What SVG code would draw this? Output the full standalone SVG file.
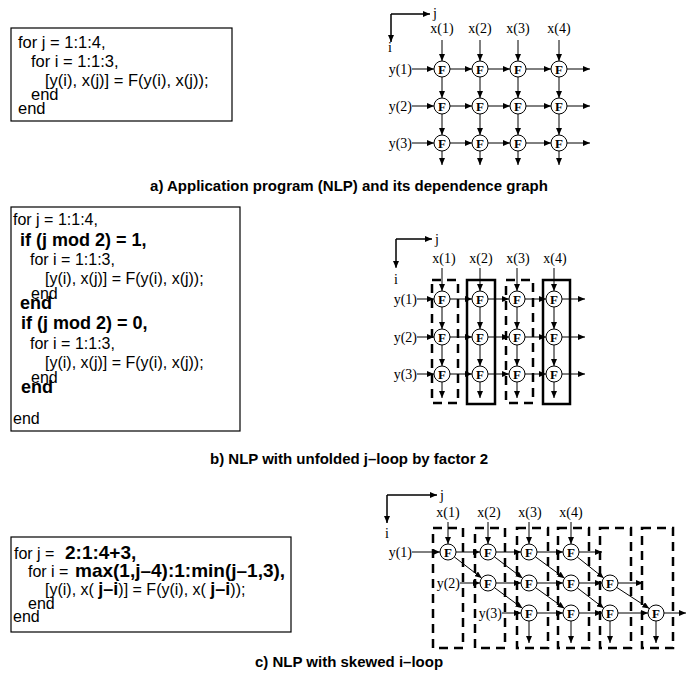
<svg xmlns="http://www.w3.org/2000/svg" width="698" height="675" viewBox="0 0 698 675">
<defs>
<marker id="ah" markerWidth="7" markerHeight="6" refX="7" refY="3" orient="auto" markerUnits="userSpaceOnUse"><path d="M0,0 L7,3 L0,6 z" fill="#000"/></marker>
<style>
.code{font-family:"Liberation Sans",Arial,sans-serif;font-size:16px;fill:#000}
.ca{font-size:16.5px}
.bold{font-weight:bold;font-size:18px}
.bc{font-weight:bold;font-size:19px}
.cap{font-family:"Liberation Sans",Arial,sans-serif;font-size:15px;font-weight:bold;text-anchor:middle}
.lbl{font-family:"Liberation Serif","Times New Roman",serif;font-size:14px}
.mid{text-anchor:middle}
.end{text-anchor:end}
.box{fill:#fff;stroke:#000;stroke-width:1.2}
.n circle{fill:#fff;stroke:#000;stroke-width:1}
.n text{font-family:"Liberation Serif","Times New Roman",serif;font-size:13px;font-weight:bold;text-anchor:middle}
.e{stroke:#000;stroke-width:1;fill:none;marker-end:url(#ah)}
.ax{stroke:#000;stroke-width:1;fill:none}
.db{fill:none;stroke:#000;stroke-width:2.5;stroke-dasharray:9 6}
.sb{fill:none;stroke:#000;stroke-width:2.5}
</style>
</defs>
<rect width="698" height="675" fill="#fff"/>

<!-- Panel a code -->
<g id="code-a">
<rect class="box" x="11" y="28" width="221" height="93"/>
<text class="code ca" x="18" y="48">for j = 1:1:4,</text>
<text class="code ca" x="31" y="67">for i = 1:1:3,</text>
<text class="code ca" x="45" y="86">[y(i), x(j)] = F(y(i), x(j));</text>
<text class="code ca" x="31" y="100">end</text>
<text class="code ca" x="18" y="114">end</text>
</g>

<!-- Panel a graph -->
<g id="labels-a" class="lbl">
<path class="ax" d="M391,42 V14 H430"/>
<path class="e" d="M391,14 H430"/><path class="e" d="M391,14 V42"/>
<text x="433" y="18">j</text><text x="388" y="52">i</text>
<text class="mid" x="442" y="33">x(1)</text><text class="mid" x="480" y="33">x(2)</text><text class="mid" x="518" y="33">x(3)</text><text class="mid" x="559" y="33">x(4)</text>
<text class="end" x="412" y="74">y(1)</text><text class="end" x="412" y="111">y(2)</text><text class="end" x="412" y="148">y(3)</text>
</g>
<g id="edges-a">
<path class="e" d="M442,40V61"/><path class="e" d="M480,40V61"/><path class="e" d="M518,40V61"/><path class="e" d="M559,40V61"/>
<path class="e" d="M442,77V98"/><path class="e" d="M480,77V98"/><path class="e" d="M518,77V98"/><path class="e" d="M559,77V98"/>
<path class="e" d="M442,114V135"/><path class="e" d="M480,114V135"/><path class="e" d="M518,114V135"/><path class="e" d="M559,114V135"/>
<path class="e" d="M442,151V165"/><path class="e" d="M480,151V165"/><path class="e" d="M518,151V165"/><path class="e" d="M559,151V165"/>
<path class="e" d="M412,69H434"/><path class="e" d="M450,69H472"/><path class="e" d="M488,69H510"/><path class="e" d="M526,69H551"/><path class="e" d="M567,69H590"/>
<path class="e" d="M412,106H434"/><path class="e" d="M450,106H472"/><path class="e" d="M488,106H510"/><path class="e" d="M526,106H551"/><path class="e" d="M567,106H590"/>
<path class="e" d="M412,143H434"/><path class="e" d="M450,143H472"/><path class="e" d="M488,143H510"/><path class="e" d="M526,143H551"/><path class="e" d="M567,143H590"/>
</g>
<g id="nodes-a">
<g class="n" id="a11"><circle cx="442" cy="69" r="8"/><text x="442" y="73.5">F</text></g>
<g class="n" id="a12"><circle cx="480" cy="69" r="8"/><text x="480" y="73.5">F</text></g>
<g class="n" id="a13"><circle cx="518" cy="69" r="8"/><text x="518" y="73.5">F</text></g>
<g class="n" id="a14"><circle cx="559" cy="69" r="8"/><text x="559" y="73.5">F</text></g>
<g class="n" id="a21"><circle cx="442" cy="106" r="8"/><text x="442" y="110.5">F</text></g>
<g class="n" id="a22"><circle cx="480" cy="106" r="8"/><text x="480" y="110.5">F</text></g>
<g class="n" id="a23"><circle cx="518" cy="106" r="8"/><text x="518" y="110.5">F</text></g>
<g class="n" id="a24"><circle cx="559" cy="106" r="8"/><text x="559" y="110.5">F</text></g>
<g class="n" id="a31"><circle cx="442" cy="143" r="8"/><text x="442" y="147.5">F</text></g>
<g class="n" id="a32"><circle cx="480" cy="143" r="8"/><text x="480" y="147.5">F</text></g>
<g class="n" id="a33"><circle cx="518" cy="143" r="8"/><text x="518" y="147.5">F</text></g>
<g class="n" id="a34"><circle cx="559" cy="143" r="8"/><text x="559" y="147.5">F</text></g>
</g>
<text class="cap" x="349" y="191">a) Application program (NLP) and its dependence graph</text>

<!-- Panel b code -->
<g id="code-b">
<rect class="box" x="11" y="207" width="229" height="224"/>
<text class="code" x="13" y="225">for j = 1:1:4,</text>
<text class="code bold" x="20" y="246">if (j mod 2) = 1,</text>
<text class="code" x="30" y="265">for i = 1:1:3,</text>
<text class="code" x="45" y="284">[y(i), x(j)] = F(y(i), x(j));</text>
<text class="code" x="31" y="299">end</text>
<text class="code bold" x="20" y="309">end</text>
<text class="code bold" x="21" y="329">if (j mod 2) = 0,</text>
<text class="code" x="30" y="349">for i = 1:1:3,</text>
<text class="code" x="45" y="368">[y(i), x(j)] = F(y(i), x(j));</text>
<text class="code" x="31" y="383">end</text>
<text class="code bold" x="21" y="393">end</text>
<text class="code" x="13" y="424">end</text>
</g>

<!-- Panel b graph -->
<g id="labels-b" class="lbl">
<path class="ax" d="M396,267 V239 H432"/>
<path class="e" d="M396,239 H432"/><path class="e" d="M396,239 V268"/>
<text x="435" y="244">j</text><text x="394" y="284">i</text>
<text class="mid" x="444" y="263">x(1)</text><text class="mid" x="481" y="263">x(2)</text><text class="mid" x="518" y="263">x(3)</text><text class="mid" x="555" y="263">x(4)</text>
<text class="end" x="417" y="304">y(1)</text><text class="end" x="417" y="342">y(2)</text><text class="end" x="417" y="379">y(3)</text>
</g>
<g id="boxes-b">
<rect class="db" x="432" y="280" width="26" height="123"/>
<rect class="sb" x="467" y="280" width="28" height="124"/>
<rect class="db" x="506" y="280" width="27" height="123"/>
<rect class="sb" x="543" y="280" width="27" height="124"/>
</g>
<g id="edges-b">
<path class="e" d="M442,268V291"/><path class="e" d="M480,268V291"/><path class="e" d="M517,268V291"/><path class="e" d="M554,268V291"/>
<path class="e" d="M442,307V329"/><path class="e" d="M480,307V329"/><path class="e" d="M517,307V329"/><path class="e" d="M554,307V329"/>
<path class="e" d="M442,345V366"/><path class="e" d="M480,345V366"/><path class="e" d="M517,345V366"/><path class="e" d="M554,345V366"/>
<path class="e" d="M442,382V398"/><path class="e" d="M480,382V398"/><path class="e" d="M517,382V398"/><path class="e" d="M554,382V398"/>
<path class="e" d="M417,299H434"/><path class="e" d="M450,299H472"/><path class="e" d="M488,299H509"/><path class="e" d="M525,299H546"/><path class="e" d="M562,299H585"/>
<path class="e" d="M417,337H434"/><path class="e" d="M450,337H472"/><path class="e" d="M488,337H509"/><path class="e" d="M525,337H546"/><path class="e" d="M562,337H585"/>
<path class="e" d="M417,374H434"/><path class="e" d="M450,374H472"/><path class="e" d="M488,374H509"/><path class="e" d="M525,374H546"/><path class="e" d="M562,374H585"/>
</g>
<g id="nodes-b">
<g class="n" id="b11"><circle cx="442" cy="299" r="8"/><text x="442" y="303.5">F</text></g>
<g class="n" id="b12"><circle cx="480" cy="299" r="8"/><text x="480" y="303.5">F</text></g>
<g class="n" id="b13"><circle cx="517" cy="299" r="8"/><text x="517" y="303.5">F</text></g>
<g class="n" id="b14"><circle cx="554" cy="299" r="8"/><text x="554" y="303.5">F</text></g>
<g class="n" id="b21"><circle cx="442" cy="337" r="8"/><text x="442" y="341.5">F</text></g>
<g class="n" id="b22"><circle cx="480" cy="337" r="8"/><text x="480" y="341.5">F</text></g>
<g class="n" id="b23"><circle cx="517" cy="337" r="8"/><text x="517" y="341.5">F</text></g>
<g class="n" id="b24"><circle cx="554" cy="337" r="8"/><text x="554" y="341.5">F</text></g>
<g class="n" id="b31"><circle cx="442" cy="374" r="8"/><text x="442" y="378.5">F</text></g>
<g class="n" id="b32"><circle cx="480" cy="374" r="8"/><text x="480" y="378.5">F</text></g>
<g class="n" id="b33"><circle cx="517" cy="374" r="8"/><text x="517" y="378.5">F</text></g>
<g class="n" id="b34"><circle cx="554" cy="374" r="8"/><text x="554" y="378.5">F</text></g>
</g>
<text class="cap" x="349" y="464">b) NLP with unfolded j–loop by factor 2</text>

<!-- Panel c code -->
<g id="code-c">
<rect class="box" x="11" y="537" width="280" height="95"/>
<text class="code" x="14" y="559">for j = <tspan class="bc" x="65">2:1:4+3,</tspan></text>
<text class="code" x="28" y="577">for i = <tspan class="bc" x="75">max(1,j–4):1:min(j–1,3),</tspan></text>
<text class="code" x="45" y="595">[y(i), x( <tspan class="bold">j–i</tspan>)] = F(y(i), x( <tspan class="bold">j–i</tspan>));</text>
<text class="code" x="28" y="609">end</text>
<text class="code" x="13" y="622">end</text>
</g>

<!-- Panel c graph -->
<g id="boxes-c">
<rect class="db" x="433" y="528" width="30" height="120"/>
<rect class="db" x="475" y="528" width="30" height="120"/>
<rect class="db" x="517" y="528" width="31" height="120"/>
<rect class="db" x="558" y="528" width="31" height="120"/>
<rect class="db" x="600" y="528" width="31" height="120"/>
<rect class="db" x="642" y="528" width="31" height="120"/>
</g>
<g id="labels-c" class="lbl">
<path class="ax" d="M387,523 V495 H437"/>
<path class="e" d="M387,495 H437"/><path class="e" d="M387,495 V523"/>
<text x="440" y="500">j</text><text x="385" y="538">i</text>
<text class="mid" x="448" y="517">x(1)</text><text class="mid" x="489" y="517">x(2)</text><text class="mid" x="530" y="517">x(3)</text><text class="mid" x="571" y="517">x(4)</text>
<text class="end" x="412" y="557">y(1)</text><text class="end" x="460" y="588">y(2)</text><text class="end" x="502" y="618">y(3)</text>
</g>
<g id="edges-c">
<path class="e" d="M448,522V544"/><path class="e" d="M488,522V544"/><path class="e" d="M529,522V544"/><path class="e" d="M571,522V544"/>
<path class="e" d="M412,552H440"/><path class="e" d="M456,552H480"/><path class="e" d="M496,552H521"/><path class="e" d="M537,552H563"/><path class="e" d="M579,552H602"/>
<path class="e" d="M460,583H480"/><path class="e" d="M496,583H521"/><path class="e" d="M537,583H563"/><path class="e" d="M579,583H602"/><path class="e" d="M618,583H643"/>
<path class="e" d="M502,613H521"/><path class="e" d="M537,613H563"/><path class="e" d="M579,613H602"/><path class="e" d="M618,613H648"/><path class="e" d="M664,613H686"/>
<path class="e" d="M454.3,556.9L481.7,578.1"/><path class="e" d="M494.4,556.8L522.6,578.2"/><path class="e" d="M535.4,556.8L564.6,578.2"/><path class="e" d="M577.3,557L603.7,578"/>
<path class="e" d="M494.5,587.7L522.5,608.3"/><path class="e" d="M535.5,587.6L564.5,608.4"/><path class="e" d="M577.3,587.9L603.7,608.1"/><path class="e" d="M616.7,587.4L649.3,608.6"/>
<path class="e" d="M529,621V643"/><path class="e" d="M571,621V643"/><path class="e" d="M610,621V643"/><path class="e" d="M656,621V643"/>
</g>
<g id="nodes-c">
<g class="n" id="c11"><circle cx="448" cy="552" r="8"/><text x="448" y="556.5">F</text></g>
<g class="n" id="c12"><circle cx="488" cy="552" r="8"/><text x="488" y="556.5">F</text></g>
<g class="n" id="c13"><circle cx="529" cy="552" r="8"/><text x="529" y="556.5">F</text></g>
<g class="n" id="c14"><circle cx="571" cy="552" r="8"/><text x="571" y="556.5">F</text></g>
<g class="n" id="c21"><circle cx="488" cy="583" r="8"/><text x="488" y="587.5">F</text></g>
<g class="n" id="c22"><circle cx="529" cy="583" r="8"/><text x="529" y="587.5">F</text></g>
<g class="n" id="c23"><circle cx="571" cy="583" r="8"/><text x="571" y="587.5">F</text></g>
<g class="n" id="c24"><circle cx="610" cy="583" r="8"/><text x="610" y="587.5">F</text></g>
<g class="n" id="c31"><circle cx="529" cy="613" r="8"/><text x="529" y="617.5">F</text></g>
<g class="n" id="c32"><circle cx="571" cy="613" r="8"/><text x="571" y="617.5">F</text></g>
<g class="n" id="c33"><circle cx="610" cy="613" r="8"/><text x="610" y="617.5">F</text></g>
<g class="n" id="c34"><circle cx="656" cy="613" r="8"/><text x="656" y="617.5">F</text></g>
</g>
<text class="cap" x="349" y="667">c) NLP with skewed i–loop</text>
</svg>
